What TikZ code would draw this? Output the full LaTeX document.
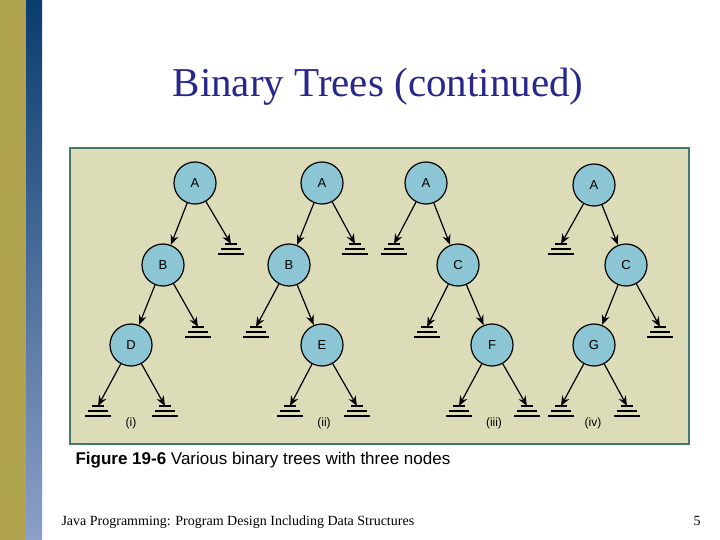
\documentclass[tikz,border=0pt]{standalone}
\usepackage{fontspec}
\setmainfont{Liberation Serif}
\newfontfamily\arialfont{Liberation Sans}
\usetikzlibrary{arrows.meta,calc}
\definecolor{olivebar}{RGB}{176,164,80}
\definecolor{navytop}{RGB}{10,60,110}
\definecolor{navybot}{RGB}{140,160,200}
\definecolor{panelfill}{RGB}{221,220,185}
\definecolor{panelline}{RGB}{70,120,110}
\definecolor{nodefill}{RGB}{140,198,212}
\definecolor{titleblue}{RGB}{40,40,140}
\tikzset{
  tnode/.style={circle,draw,line width=1.2pt,fill=nodefill,minimum size=42pt,inner sep=0pt,font=\arialfont\fontsize{13}{13}\selectfont},
  link/.style={-{Stealth[length=10pt,width=8pt]},line width=1.2pt},
  tlabel/.style={font=\arialfont\fontsize{12}{12}\selectfont}
}
\newcommand\groundat[1]{%
  \draw[line width=1.4pt] ($(#1)+(-6,0)$) -- ($(#1)+(6,0)$);
  \draw[line width=1.4pt] ($(#1)+(-10,5)$) -- ($(#1)+(10,5)$);
  \draw[line width=1.4pt] ($(#1)+(-13,10)$) -- ($(#1)+(13,10)$);}
\begin{document}
\begin{tikzpicture}[x=1pt,y=-1pt]
\useasboundingbox (0,0) rectangle (720,540);
\fill[white] (0,0) rectangle (720,540);
\fill[olivebar] (0,0) rectangle (26,540);
\shade[top color=navytop,bottom color=navybot] (26,0) rectangle (42,540);
% title
\node[text=titleblue,font=\fontsize{41}{41}\selectfont] (title) at (378,87) {Binary Trees (continued)};
% panel
\draw[panelline,fill=panelfill,line width=1.5pt] (70,148) rectangle (689,444);
% tree (i)
\node[tnode] (ia) at (195,183) {A};
\node[tnode] (ib) at (163,265) {B};
\node[tnode] (id) at (131,345) {D};
\coordinate (ia-r) at (231,244);
\coordinate (ib-r) at (198,327);
\coordinate (id-l) at (98,406);
\coordinate (id-r) at (165,406);
\draw[link] (ia) -- (ib);
\draw[link] (ia) -- (ia-r);
\draw[link] (ib) -- (id);
\draw[link] (ib) -- (ib-r);
\draw[link] (id) -- (id-l);
\draw[link] (id) -- (id-r);
\node[tlabel] (lab-i) at (131,423) {(i)};
% tree (ii)
\node[tnode] (iia) at (322,183) {A};
\node[tnode] (iib) at (289,265) {B};
\node[tnode] (iie) at (322,345) {E};
\coordinate (iia-r) at (355,244);
\coordinate (iib-l) at (256,327);
\coordinate (iie-l) at (290,406);
\coordinate (iie-r) at (357,406);
\draw[link] (iia) -- (iib);
\draw[link] (iia) -- (iia-r);
\draw[link] (iib) -- (iib-l);
\draw[link] (iib) -- (iie);
\draw[link] (iie) -- (iie-l);
\draw[link] (iie) -- (iie-r);
\node[tlabel] (lab-ii) at (324,423) {(ii)};
% tree (iii)
\node[tnode] (iiia) at (426,183) {A};
\node[tnode] (iiic) at (458,265) {C};
\node[tnode] (iiif) at (492,345) {F};
\coordinate (iiia-l) at (394,244);
\coordinate (iiic-l) at (427,327);
\coordinate (iiif-l) at (459,406);
\coordinate (iiif-r) at (527,406);
\draw[link] (iiia) -- (iiia-l);
\draw[link] (iiia) -- (iiic);
\draw[link] (iiic) -- (iiic-l);
\draw[link] (iiic) -- (iiif);
\draw[link] (iiif) -- (iiif-l);
\draw[link] (iiif) -- (iiif-r);
\node[tlabel] (lab-iii) at (494,423) {(iii)};
% tree (iv)
\node[tnode] (iva) at (594,185) {A};
\node[tnode] (ivc) at (626,265) {C};
\node[tnode] (ivg) at (594,345) {G};
\coordinate (iva-l) at (561,244);
\coordinate (ivc-r) at (660,327);
\coordinate (ivg-l) at (561,406);
\coordinate (ivg-r) at (627,406);
\draw[link] (iva) -- (iva-l);
\draw[link] (iva) -- (ivc);
\draw[link] (ivc) -- (ivg);
\draw[link] (ivc) -- (ivc-r);
\draw[link] (ivg) -- (ivg-l);
\draw[link] (ivg) -- (ivg-r);
\node[tlabel] (lab-iv) at (593,423) {(iv)};
% null pointers
\foreach \g in {ia-r,ib-r,id-l,id-r,iia-r,iib-l,iie-l,iie-r,iiia-l,iiic-l,iiif-l,iiif-r,iva-l,ivc-r,ivg-l,ivg-r}
  {\groundat{\g}}
% caption and footer
\node[anchor=west,font=\arialfont\fontsize{17}{17}\selectfont] (caption) at (72,460) {\textbf{Figure 19-6} Various binary trees with three nodes};
\node[anchor=west,font=\fontsize{14}{14}\selectfont] (footer) at (58,522) {Java Programming: Program Design Including Data Structures};
\node[font=\fontsize{14}{14}\selectfont] (page) at (697,521) {5};
\end{tikzpicture}
\end{document}
